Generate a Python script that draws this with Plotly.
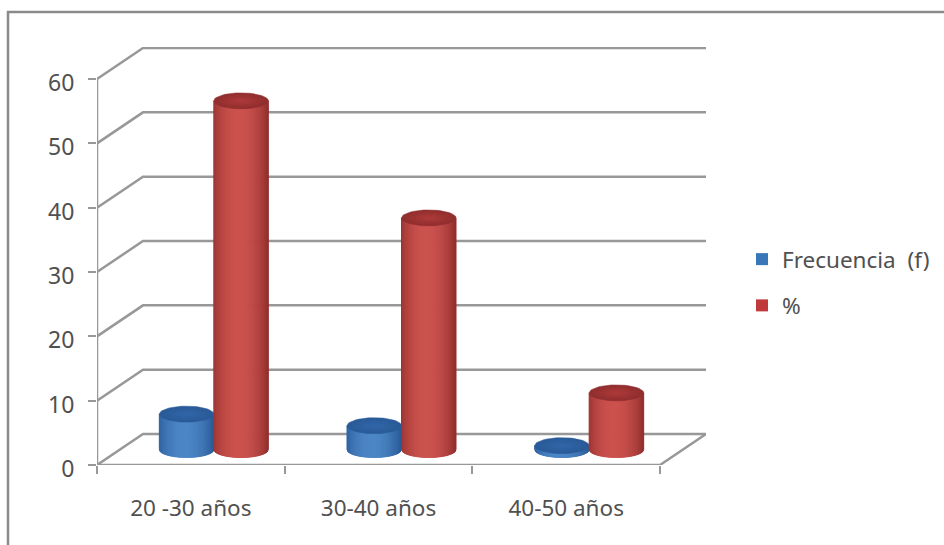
import math
import plotly.graph_objects as go

# Chart data
categorias = ["20 -30 años", "30-40 años", "40-50 años"]
frecuencia = [5.5, 3.7, 0.6]
porcentaje = [54.2, 36.0, 8.8]
marcas_y = [0, 10, 20, 30, 40, 50, 60]

# Page geometry (pixels)
W, H = 944, 545
LEFT, RIGHT_PLOT, TOP, BOTTOM_PLOT = 97, 706, 47, 465
PX_PER_CAT = 187.67
PX_PER_UNIT = 6.433

# Oblique projection of the floor, in axis units
DEPTH_X = 46 / PX_PER_CAT
DEPTH_Y = 31 / PX_PER_UNIT
XMAX = (RIGHT_PLOT - LEFT) / PX_PER_CAT
YMAX = (BOTTOM_PLOT - TOP) / PX_PER_UNIT

# Cylinder geometry, in axis units
BAR_W = 54.5 / PX_PER_CAT
CAP_H = 8.0 / PX_PER_UNIT
N_STRIPS = 54

GRID = "#989898"
TEXT = "#505050"
FONT = "Noto Sans"


def mix(a, b, t):
    return tuple(a[i] + (b[i] - a[i]) * t for i in range(3))


def css(c):
    return "rgb(%d,%d,%d)" % tuple(round(v) for v in c)


def shade(t, edge, mid, rim):
    """Horizontal shading across a cylinder, t in 0..1."""
    peak = 0.45
    if t < peak:
        return mix(edge, mid, math.sin(t / peak * math.pi / 2) ** 0.7)
    return mix(rim, mid, math.sin((1 - t) / (1 - peak) * math.pi / 2) ** 0.7)


fig = go.Figure()


def line(xs, ys, width=2.5, color=GRID):
    fig.add_trace(go.Scatter(x=xs, y=ys, mode="lines", cliponaxis=False,
                             line=dict(color=color, width=width),
                             showlegend=False, hoverinfo="skip"))


# Back wall and left wall rulings
for v in marcas_y:
    line([0, DEPTH_X, XMAX], [v, v + DEPTH_Y, v + DEPTH_Y])
# Floor edge on the right, front edge and vertical axis
line([XMAX, XMAX - DEPTH_X, 0], [DEPTH_Y, 0, 0])
line([0, 0], [0, marcas_y[-1]])


def cylinder(cx, value, edge, mid, rim, cap_edge, cap_mid):
    base = DEPTH_Y / 2
    top = base + value
    half = BAR_W / 2

    # Body, built from narrow vertical strips
    for i in range(N_STRIPS):
        t0, t1 = i / N_STRIPS, (i + 1) / N_STRIPS
        xs, ys = [], []
        for t in (t0, t1):
            u = 2 * t - 1
            xs.append(cx + u * half)
            ys.append(base - CAP_H * math.sqrt(max(0.0, 1 - u * u)))
        color = css(shade((t0 + t1) / 2, edge, mid, rim))
        fig.add_trace(go.Scatter(
            x=[xs[0], xs[1], xs[1], xs[0], xs[0]],
            y=[ys[0], ys[1], top, top, ys[0]],
            mode="lines", fill="toself", fillcolor=color,
            line=dict(color=color, width=1),
            showlegend=False, hoverinfo="skip"))

    # Top cap: concentric ellipses shaded from the rim inwards
    for k in range(8):
        s = 1 - k / 8
        color = css(mix(cap_mid, cap_edge, s))
        angles = [2 * math.pi * j / 60 for j in range(61)]
        fig.add_trace(go.Scatter(
            x=[cx + half * s * math.cos(a) for a in angles],
            y=[top + CAP_H * s * math.sin(a) for a in angles],
            mode="lines", fill="toself", fillcolor=color,
            line=dict(color=color, width=0.5),
            showlegend=False, hoverinfo="skip"))


BLUE = dict(edge=(44, 94, 156), mid=(76, 134, 198), rim=(38, 86, 146),
            cap_edge=(42, 90, 152), cap_mid=(50, 104, 170))
RED = dict(edge=(150, 50, 48), mid=(204, 82, 78), rim=(140, 44, 42),
           cap_edge=(145, 46, 46), cap_mid=(175, 60, 58))

for i in range(len(categorias)):
    cx = i + 0.5 + DEPTH_X / 2
    cylinder(cx - BAR_W / 2, frecuencia[i], **BLUE)
    cylinder(cx + BAR_W / 2, porcentaje[i], **RED)

# Legend entries
for name, color in (("Frecuencia  (f)", "#3a77b8"), ("%", "#c0393b")):
    fig.add_trace(go.Scatter(x=[None], y=[None], mode="markers", name=name,
                             legendgroup=name,
                             marker=dict(symbol="square", size=14, color=color)))

plot_w = RIGHT_PLOT - LEFT
plot_h = BOTTOM_PLOT - TOP


def px(x):
    return (x - LEFT) / plot_w


def py(y):
    return (BOTTOM_PLOT - y) / plot_h


fig.update_layout(
    width=W, height=H,
    margin=dict(l=LEFT, r=W - RIGHT_PLOT, t=TOP, b=H - BOTTOM_PLOT, autoexpand=False),
    paper_bgcolor="white", plot_bgcolor="white",
    font=dict(family=FONT, size=22, color=TEXT),
    xaxis=dict(range=[0, XMAX], tickvals=[i + 0.5 for i in range(len(categorias))],
               ticktext=categorias, ticks="", showgrid=False, zeroline=False,
               showline=False, ticklabelstandoff=27, tickfont=dict(size=22.5),
               minor=dict(tickvals=list(range(len(categorias) + 1)), ticks="outside",
                          ticklen=8, tickwidth=2, tickcolor=GRID, showgrid=False)),
    yaxis=dict(range=[0, YMAX], tickvals=marcas_y, ticks="outside", ticklen=8,
               tickwidth=2, tickcolor=GRID, showgrid=False, zeroline=False,
               showline=False, ticklabelstandoff=9, ticklabelshift=4,
               tickfont=dict(size=23)),
    legend=dict(x=px(742), y=py(238), xanchor="left", yanchor="top",
                tracegroupgap=14, font=dict(size=22.5), bgcolor="rgba(0,0,0,0)",
                itemsizing="constant"),
    shapes=[
        dict(type="path", xref="paper", yref="paper", layer="below",
             path="M %f %f L %f %f L %f %f" % (
                 px(8), py(H), px(8), py(12), px(W), py(12)),
             line=dict(color="#8a8a8a", width=2.5)),
    ],
)

fig.write_html("out.html")
